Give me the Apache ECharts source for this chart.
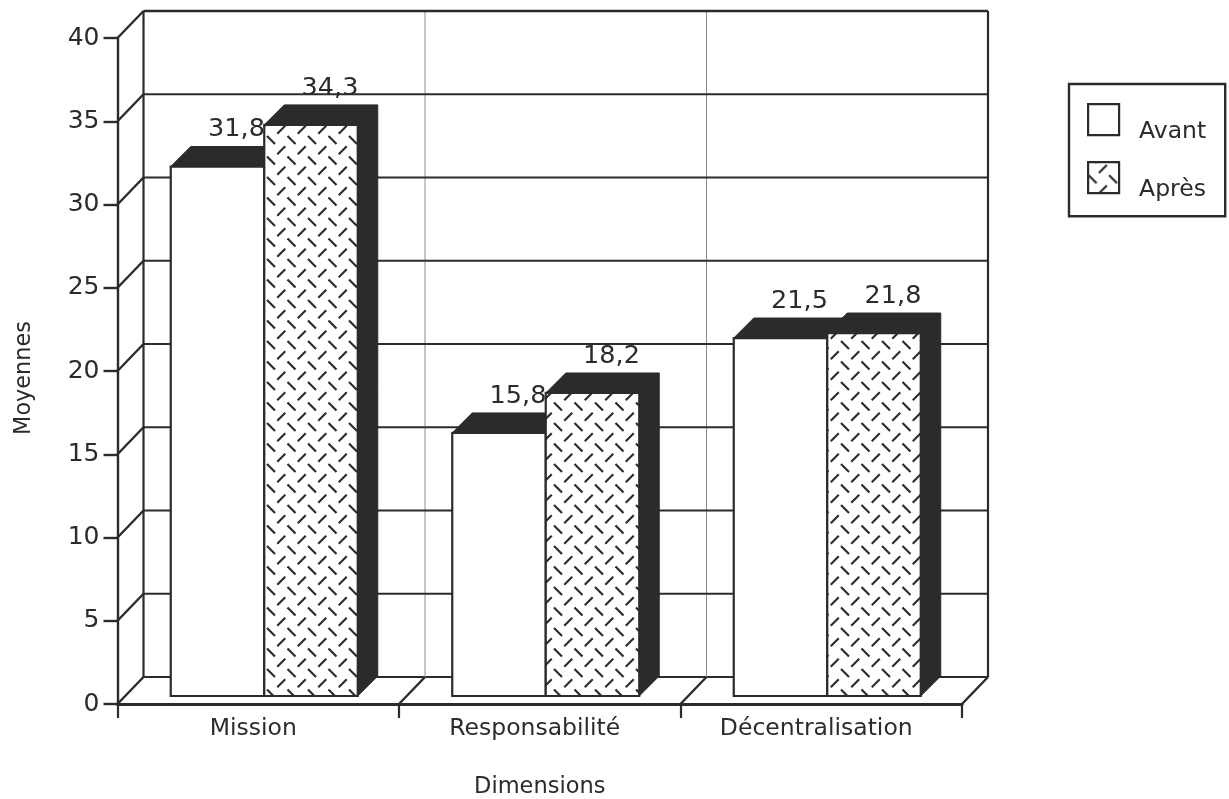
<!DOCTYPE html>
<html><head><meta charset="utf-8">
<style>html,body{margin:0;background:#fff}#c{width:1229px;height:799px}</style>
<script src="https://cdn.jsdelivr.net/npm/echarts@6/dist/echarts.min.js"></script>
</head><body><div id="c"></div>
<script>
const categories = ['Mission', 'Responsabilité', 'Décentralisation'];
const avant = [31.8, 15.8, 21.5];
const apres = [34.3, 18.2, 21.8];
const yTicks = [0, 5, 10, 15, 20, 25, 30, 35, 40];
const INK = '#2b2b2b', FONT = '"DejaVu Sans", sans-serif';
const DX = 26, DY = 27, BX = 6, BY = 8, TOP = 20, W = 93.5;

function makeTile() {
  const c = document.createElement('canvas'); c.width = 41; c.height = 41;
  const g = c.getContext('2d');
  g.fillStyle = '#fff'; g.fillRect(0, 0, 41, 41);
  g.strokeStyle = INK; g.lineWidth = 2.2; g.lineCap = 'butt';
  const s = 20.5, h = 4;
  // phase follows the reference's lattice
  for (let i = -1; i < 3; i++) for (let j = -1; j < 3; j++) {
    const x = 4.5 + i * s, y = 17 + j * s;
    g.beginPath(); g.moveTo(x - h, y - h); g.lineTo(x + h, y + h); g.stroke();
    const u = x + s / 2, v = y + s / 2;
    g.beginPath(); g.moveTo(u - h, v + h); g.lineTo(u + h, v - h); g.stroke();
  }
  return c;
}
const hatch = { image: makeTile(), repeat: 'repeat' };

const line = (x1, y1, x2, y2, w, col) => ({
  type: 'line', shape: { x1, y1, x2, y2 },
  style: { stroke: col || INK, lineWidth: w || 2, fill: null }, silent: true
});

function wallItem(params, api) {
  const v = api.value(1), p = api.coord([0, v]), o = api.coord([0, 0]);
  const band = api.size([1, 0])[0], L = p[0] - band / 2, R = L + band * categories.length;
  const kids = [line(L, p[1], L + DX, p[1] - DY, 2.4)];
  kids.push(line(L + DX, p[1] - DY, R + DX, p[1] - DY, v === 40 ? 2.4 : 1.8));
  if (v === 0) {
    const top = api.coord([0, 40])[1] - DY;
    kids.push(line(L + DX, top, L + DX, o[1] - DY, 2.2));
    kids.push(line(R + DX, top, R + DX, o[1] - DY, 2.2));
    for (let k = 1; k <= categories.length; k++) {
      const x = L + band * k;
      kids.push(line(x, o[1], x + DX, o[1] - DY, 2.4));
      if (k < categories.length) kids.push(line(x + DX, top, x + DX, o[1] - DY, 1, '#8a8a8a'));
    }
  }
  return { type: 'group', children: kids };
}

function barItem(side, fill) {
  return function (params, api) {
    const p = api.coord([api.value(0), api.value(1)]), o = api.coord([api.value(0), 0]);
    const x0 = p[0] + BX + (side < 0 ? -W : 0), x1 = x0 + W, yT = p[1] - BY, yB = o[1] - BY;
    const kids = [
      { type: 'polygon', shape: { points: [[x0, yT], [x0 + TOP, yT - TOP], [x1 + TOP, yT - TOP], [x1 + TOP, yB - TOP], [x1, yB], [x1, yT]] },
        style: { fill: INK, stroke: INK, lineWidth: 1 }, silent: true },
      { type: 'rect', shape: { x: x0, y: yT, width: W, height: yB - yT },
        style: { fill, stroke: INK, lineWidth: 2.2 }, silent: true },
      { type: 'text', z2: 50, style: { x: x0 + W / 2 + 19, y: yT - 37, text: String(api.value(1)).replace('.', ','),
        fill: INK, font: '25.5px ' + FONT, textAlign: 'center', textVerticalAlign: 'middle' }, silent: true }
    ];
    return { type: 'group', children: kids };
  };
}

const chart = echarts.init(document.getElementById('c'), null, { renderer: 'canvas' });
chart.setOption({
  animation: false,
  backgroundColor: '#fff',
  textStyle: { fontFamily: FONT, color: INK },
  grid: { left: 117.5, right: 267, top: 38, bottom: 95, outerBoundsMode: 'none' },
  legend: {
    left: 1069, top: 84, orient: 'vertical', selectedMode: false,
    itemWidth: 31, itemHeight: 31, itemGap: 17.5, padding: [19, 19, 14.5, 18],
    borderColor: INK, borderWidth: 2.4, backgroundColor: '#fff',
    formatter: name => '{a|' + name + '}',
    textStyle: { fontFamily: FONT, fontSize: 23.5, color: INK,
      rich: { a: { fontFamily: FONT, fontSize: 23.5, color: INK, padding: [24, 0, 0, 15] } } },
    data: [
      { name: 'Avant', icon: 'rect', itemStyle: { color: '#fff', borderColor: INK, borderWidth: 2.2 } },
      { name: 'Après', icon: 'rect', itemStyle: { color: hatch, borderColor: INK, borderWidth: 2.2 } }
    ]
  },
  xAxis: {
    type: 'category', data: categories,
    name: 'Dimensions', nameLocation: 'middle', nameGap: 72,
    nameTextStyle: { fontFamily: FONT, fontSize: 22.5, color: INK },
    axisLine: { lineStyle: { color: INK, width: 3 } },
    axisTick: { show: true, alignWithLabel: false, length: 14, lineStyle: { color: INK, width: 2.2 } },
    axisLabel: { fontFamily: FONT, fontSize: 23.5, color: INK, margin: 13, padding: [0, 10, 0, 0], interval: 0 },
    splitLine: { show: false }
  },
  yAxis: {
    type: 'value', min: 0, max: 40, interval: 5,
    name: 'Moyennes', nameLocation: 'middle', nameGap: 82, nameRotate: 90,
    nameTextStyle: { fontFamily: FONT, fontSize: 22.4, color: INK, padding: [0, 14, 0, 0] },
    axisLine: { show: true, lineStyle: { color: INK, width: 2.4 } },
    axisTick: { show: true, length: 14, lineStyle: { color: INK, width: 2.4 } },
    axisLabel: { fontFamily: FONT, fontSize: 25, color: INK, margin: 18, padding: [0, 0, 12, 0] },
    splitLine: { show: false }
  },
  series: [
    { type: 'custom', name: 'grille', clip: false, z: 1, silent: true, renderItem: wallItem,
      data: yTicks.map(v => [0, v]) },
    { type: 'custom', name: 'Avant', clip: false, z: 2, silent: true, renderItem: barItem(-1, '#fff'),
      data: avant.map((v, i) => [i, v]) },
    { type: 'custom', name: 'Après', clip: false, z: 3, silent: true, renderItem: barItem(1, hatch),
      data: apres.map((v, i) => [i, v]) }
  ]
});
</script></body></html>
